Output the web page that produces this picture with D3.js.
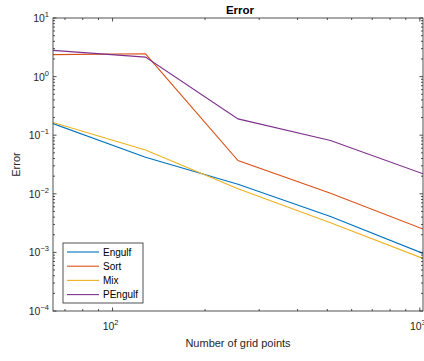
<!DOCTYPE html>
<html>
<head>
<meta charset="utf-8">
<script src="https://cdn.jsdelivr.net/npm/d3@7"></script>
<style>
  body { margin: 0; background: #fff; }
  svg { display: block; font-family: "Liberation Sans", Arial, sans-serif; }
</style>
</head>
<body>
<svg id="chart" width="424" height="361"></svg>
<script>
// grid sizes along x
const gridPoints = [64, 128, 256, 512, 1024];

// error per method
const engulf  = [0.158, 0.042, 0.0146, 0.0041, 0.00096];
const sort    = [2.37, 2.45, 0.037, 0.0102, 0.0025];
const mix     = [0.165, 0.056, 0.0122, 0.0032, 0.00079];
const pengulf = [2.8, 2.15, 0.19, 0.081, 0.022];

const seriesNames = ['Engulf', 'Sort', 'Mix', 'PEngulf'];
const seriesColors = ['#0072BD', '#D95319', '#EDB120', '#7E2F8E'];
const xMajorTicks = [100, 1000];
const yMajorTicks = [1e-4, 1e-3, 1e-2, 1e-1, 1e0, 1e1];

const margin = { top: 18, right: 1, bottom: 50, left: 53 };
const width = 424 - margin.left - margin.right;
const height = 361 - margin.top - margin.bottom;

const svg = d3.select('#chart');
const g = svg.append('g').attr('transform', `translate(${margin.left},${margin.top})`);

const x = d3.scaleLog().domain([64, 1024]).range([0, width]);
const y = d3.scaleLog().domain([1e-4, 10]).range([height, 0]);

const axisColor = '#262626';
const tickLen = 3.5, minorLen = 2;

// minor tick values
const xMinor = [];
[10, 100].forEach(d => { for (let k = 2; k <= 9; k++) { const v = d * k; if (v > 64 && v < 1024) xMinor.push(v); } });
const yMinor = [];
yMajorTicks.slice(0, -1).forEach(d => { for (let k = 2; k <= 9; k++) yMinor.push(d * k); });

const defs = svg.append('defs');
defs.append('clipPath').attr('id', 'clip')
  .append('rect').attr('width', width).attr('height', height);

// lines
const series = [engulf, sort, mix, pengulf];
const line = d3.line().x((d, i) => x(gridPoints[i])).y(d => y(d));
g.append('g').attr('clip-path', 'url(#clip)')
  .selectAll('path').data(series).enter().append('path')
  .attr('d', d => line(d))
  .attr('fill', 'none')
  .attr('stroke', (d, i) => seriesColors[i])
  .attr('stroke-width', 1.1);

// box
g.append('rect').attr('width', width).attr('height', height)
  .attr('fill', 'none').attr('stroke', axisColor).attr('stroke-width', 0.8);

// ticks (inward, on all four sides)
const ticks = g.append('g').attr('stroke', axisColor).attr('stroke-width', 0.8);
function xTick(v, len) {
  const px = x(v);
  ticks.append('line').attr('x1', px).attr('x2', px).attr('y1', height).attr('y2', height - len);
  ticks.append('line').attr('x1', px).attr('x2', px).attr('y1', 0).attr('y2', len);
}
function yTick(v, len) {
  const py = y(v);
  ticks.append('line').attr('x1', 0).attr('x2', len).attr('y1', py).attr('y2', py);
  ticks.append('line').attr('x1', width).attr('x2', width - len).attr('y1', py).attr('y2', py);
}
xMajorTicks.forEach(v => xTick(v, tickLen));
xMinor.forEach(v => xTick(v, minorLen));
yMajorTicks.forEach(v => yTick(v, tickLen));
yMinor.forEach(v => yTick(v, minorLen));

// tick labels as 10^n
function powLabel(sel, v) {
  const e = Math.round(Math.log10(v));
  sel.append('tspan').text('10');
  sel.append('tspan').attr('dy', -5).attr('font-size', 7.5).text(String(e).replace('-', '\u2212'));
}
xMajorTicks.forEach(v => {
  const t = g.append('text').attr('x', x(v) - 2).attr('y', height + 19)
    .attr('text-anchor', 'middle').attr('font-size', 10.5).attr('fill', axisColor);
  powLabel(t, v);
});
yMajorTicks.forEach(v => {
  const t = g.append('text').attr('x', -4).attr('y', y(v) + 4)
    .attr('text-anchor', 'end').attr('font-size', 10.5).attr('fill', axisColor);
  powLabel(t, v);
});

// title and axis labels
svg.append('text').attr('x', margin.left + width / 2 + 2).attr('y', 14)
  .attr('text-anchor', 'middle').attr('font-size', 11.5).attr('font-weight', 'bold')
  .attr('fill', '#000').text('Error');
svg.append('text').attr('x', margin.left + width / 2).attr('y', 347)
  .attr('text-anchor', 'middle').attr('font-size', 11).attr('fill', axisColor)
  .text('Number of grid points');
svg.append('text').attr('transform', `translate(20,${margin.top + height / 2}) rotate(-90)`)
  .attr('text-anchor', 'middle').attr('font-size', 11).attr('fill', axisColor)
  .text('Error');

// legend
const legend = svg.append('g').attr('transform', 'translate(63,243)');
legend.append('rect').attr('width', 80).attr('height', 60)
  .attr('fill', '#fff').attr('stroke', axisColor).attr('stroke-width', 0.8);
seriesNames.forEach((name, i) => {
  const ly = 9 + i * 14.2;
  legend.append('line').attr('x1', 4).attr('x2', 36).attr('y1', ly).attr('y2', ly)
    .attr('stroke', seriesColors[i]).attr('stroke-width', 1.1);
  legend.append('text').attr('x', 40).attr('y', ly + 3.5)
    .attr('font-size', 10).attr('fill', '#000').text(name);
});
</script>
</body>
</html>
